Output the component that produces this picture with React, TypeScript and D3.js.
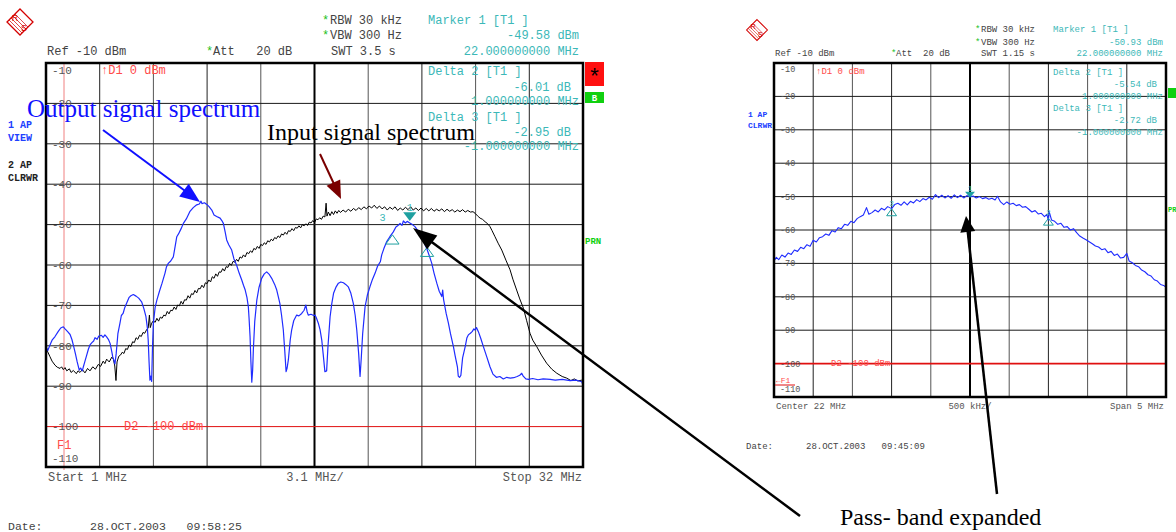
import * as d3 from "d3";

// level grid (dBm), shared by both screens
const levelTicks = [-10, -20, -30, -40, -50, -60, -70, -80, -90, -100, -110];

// left screen: 1..32 MHz, 3.1 MHz/div
const wideStart = 1;
const wideStop = 32;
// right screen: center 22 MHz, span 5 MHz
const zoomStart = 19.5;
const zoomStop = 24.5;

// trace 1 (blue) - output signal spectrum [MHz, dBm]
const outputTrace: [number, number][] = [
  [1.0, -81.5], [1.04, -80.5], [1.1, -81.2], [1.23, -79.8], [1.35, -78.6], [1.52, -77.7], [1.7, -76.5],
  [1.85, -75.6], [2.0, -75.3], [2.1, -75.8], [2.25, -76.5], [2.39, -77.2], [2.5, -78.5], [2.6, -80.2],
  [2.7, -82], [2.8, -84], [2.92, -86], [3.0, -85.5], [3.1, -86.2], [3.15, -85.3], [3.25, -83.8],
  [3.35, -82.3], [3.45, -80.8], [3.54, -79.8], [3.65, -79.2], [3.75, -78.8], [3.83, -78], [3.95, -78.4],
  [4.05, -77.6], [4.2, -77.4], [4.3, -77.9], [4.4, -77.3], [4.5, -77.8], [4.6, -78.4], [4.7, -79.4],
  [4.8, -81.5], [4.85, -82.7], [4.92, -83.6], [4.98, -84.5], [5.05, -82], [5.15, -77], [5.27, -74.4],
  [5.35, -72.5], [5.45, -72], [5.55, -70.5], [5.66, -69.4], [5.8, -68], [5.9, -67.6], [6.04, -67.3],
  [6.2, -67.7], [6.35, -68.2], [6.52, -69.1], [6.65, -70.8], [6.77, -72.8], [6.85, -75.5], [6.9, -78.6],
  [6.95, -84], [7.0, -88.5], [7.05, -87.5], [7.1, -88.8], [7.15, -80], [7.2, -74.4], [7.3, -70.5],
  [7.4, -68.7], [7.55, -66.5], [7.7, -64.5], [7.87, -62], [7.95, -60.5], [8.06, -59.6], [8.2, -59],
  [8.35, -58], [8.45, -55.5], [8.55, -53], [8.65, -52.3], [8.8, -51], [8.93, -49.7], [9.1, -48.6],
  [9.3, -46.8], [9.5, -45.8], [9.7, -45.1], [9.85, -44.9], [9.95, -44.2], [10.0, -44.8], [10.15, -44.6],
  [10.28, -45], [10.4, -45.5], [10.57, -46.4], [10.7, -47.6], [10.85, -48.0], [11.05, -48.4], [11.15, -49],
  [11.24, -49.7], [11.35, -52], [11.43, -53.8], [11.55, -55], [11.72, -56.3], [11.85, -58.5], [12.0, -60],
  [12.15, -62], [12.3, -63.7], [12.4, -65], [12.5, -66.2], [12.6, -68], [12.68, -70.3], [12.72, -73],
  [12.78, -77.7], [12.83, -84], [12.88, -89], [12.93, -86], [12.97, -81], [13.05, -74], [13.17, -68.7],
  [13.3, -65.5], [13.45, -63.3], [13.6, -62.2], [13.74, -61.7], [13.9, -62.4], [14.03, -63.3], [14.2, -64.8],
  [14.32, -66.2], [14.42, -68], [14.5, -69.5], [14.6, -72.5], [14.7, -76.1], [14.78, -81], [14.86, -86.4],
  [14.92, -85.5], [14.99, -83.5], [15.1, -78.5], [15.18, -76.1], [15.3, -73.8], [15.47, -72.4], [15.6, -72.6],
  [15.76, -72], [15.9, -71.2], [16.0, -69.9], [16.07, -71.5], [16.14, -72.4], [16.3, -72.2], [16.45, -72.5],
  [16.53, -72.4], [16.6, -73], [16.72, -74.4], [16.82, -76], [16.92, -78.6], [17.0, -82], [17.1, -86.4],
  [17.2, -86.2], [17.28, -80], [17.4, -72.8], [17.5, -69.5], [17.6, -67], [17.75, -65.4], [17.88, -64.5],
  [18.02, -64.2], [18.17, -64.4], [18.3, -64.8], [18.45, -65.4], [18.6, -67], [18.74, -69.5], [18.85, -72.5],
  [18.94, -76.1], [19.05, -82], [19.13, -87.6], [19.2, -83], [19.28, -77], [19.42, -70.3], [19.55, -67.5],
  [19.7, -65.4], [19.85, -63.5], [20.0, -62], [20.15, -60.2], [20.3, -59.2], [20.38, -57.5], [20.5, -56],
  [20.67, -54.2], [20.85, -53], [21.05, -51.8], [21.2, -50.6], [21.3, -50.3], [21.44, -49.7], [21.55, -50.2],
  [21.63, -49.1], [21.75, -49.6], [21.85, -49.2], [22.0, -49.6], [22.15, -50], [22.3, -50.5], [22.45, -51.4],
  [22.6, -52.6], [22.8, -54.2], [22.98, -55.9], [23.15, -58], [23.27, -59.6], [23.4, -62], [23.56, -64.5],
  [23.7, -66.5], [23.85, -67.8], [23.9, -66.2], [23.95, -68.5], [24.1, -72], [24.23, -74.4], [24.35, -77],
  [24.52, -80.2], [24.62, -82.5], [24.75, -85.2], [24.8, -87.5], [24.87, -87.8], [24.95, -87.3], [25.05, -83],
  [25.2, -80.2], [25.3, -78], [25.38, -77.3], [25.5, -76.9], [25.6, -76.5], [25.7, -75.8], [25.77, -76.1],
  [25.85, -75.5], [25.96, -76.5], [26.1, -78.2], [26.25, -80.2], [26.45, -82.8], [26.63, -85.2], [26.8, -87],
  [27.0, -87.8], [27.2, -87.6], [27.4, -88.2], [27.6, -87.8], [27.8, -88], [28.0, -87.9], [28.2, -87.6],
  [28.35, -87.3], [28.46, -86.8], [28.55, -87.5], [28.7, -88.2], [28.85, -88.3], [29.1, -88.1], [29.4, -88.4],
  [29.7, -88.2], [30.1, -88.3], [30.4, -88.5], [30.8, -88.3], [31.25, -88.6], [31.6, -88.5], [31.93, -88.9],
  [31.98, -89.5], [32.0, -73.5],
];

// trace 2 (black) - input signal spectrum [MHz, dBm]
const inputTrace: [number, number][] = [
  [1.0, -80.5], [1.1, -81.5], [1.23, -82.7], [1.35, -83.8], [1.52, -84.8], [1.65, -85.3], [1.81, -85.6],
  [1.9, -85.2], [2.0, -85.9], [2.1, -85.4], [2.2, -86.2], [2.35, -85.7], [2.45, -86.6], [2.58, -86.1],
  [2.75, -86.9], [2.85, -86.2], [2.96, -86.6], [3.1, -85.9], [3.25, -86.7], [3.4, -85.6], [3.54, -86.2],
  [3.7, -85.2], [3.85, -85.8], [4.02, -84.6], [4.15, -85.1], [4.3, -83.8], [4.4, -84.4], [4.5, -83.3],
  [4.65, -84.0], [4.8, -82.8], [4.89, -83.3], [4.97, -85], [5.04, -88.6], [5.1, -84], [5.2, -82.6],
  [5.3, -82.3], [5.4, -81.6], [5.5, -81.9], [5.6, -80.7], [5.7, -80.9], [5.8, -79.8], [5.9, -80.2],
  [6.0, -79.0], [6.1, -79.2], [6.2, -78.0], [6.3, -78.4], [6.4, -77.4], [6.5, -77.7], [6.6, -76.7],
  [6.7, -76.9], [6.81, -76.0], [6.9, -75.6], [6.97, -72.4], [7.02, -75.5],
  [7.1, -74.4], [7.2, -73.8], [7.3, -74.2], [7.4, -73.2], [7.5, -73.9], [7.6, -72.9], [7.7, -73.2],
  [7.8, -72.4], [7.9, -72.6], [8.0, -71.5], [8.1, -72.1], [8.2, -71.2], [8.3, -71.3], [8.4, -70.4],
  [8.5, -71.0], [8.6, -69.9], [8.7, -70.1], [8.8, -69.0], [8.9, -69.7], [9.0, -68.6], [9.1, -68.7],
  [9.2, -67.6], [9.3, -68.2], [9.4, -67.1], [9.5, -67.3], [9.6, -66.3], [9.7, -66.9], [9.8, -65.8],
  [9.9, -65.9], [10.0, -65.0], [10.1, -65.6], [10.2, -64.4], [10.3, -64.6], [10.4, -63.7], [10.5, -64.2],
  [10.6, -62.9], [10.7, -63.3], [10.8, -62.2], [10.9, -62.8], [11.0, -61.7], [11.1, -61.8], [11.2, -60.9],
  [11.3, -61.5], [11.4, -60.4], [11.5, -60.6], [11.6, -59.6], [11.7, -60.1], [11.8, -59.1], [11.9, -59.3],
  [12.0, -58.6], [12.1, -59.1], [12.2, -58.0], [12.3, -58.3], [12.4, -57.5], [12.5, -58.0], [12.6, -56.9],
  [12.7, -57.2], [12.8, -56.5], [12.9, -56.9], [13.0, -55.9], [13.1, -56.2], [13.2, -55.4], [13.3, -55.9],
  [13.4, -54.9], [13.5, -55.2], [13.6, -54.5], [13.7, -54.9], [13.8, -54.0], [13.9, -54.3], [14.0, -53.6],
  [14.1, -54.0], [14.2, -53.2], [14.3, -53.5], [14.4, -52.8], [14.5, -53.2], [14.6, -52.3], [14.7, -52.6],
  [14.8, -51.9], [14.9, -52.4], [15.0, -51.5], [15.1, -51.7], [15.2, -51.0], [15.3, -51.5], [15.4, -50.7],
  [15.5, -50.9], [15.6, -50.3], [15.7, -50.8], [15.8, -50.0], [15.9, -50.3], [16.0, -49.8], [16.1, -50.2],
  [16.2, -49.4], [16.3, -49.6], [16.4, -49.0], [16.5, -49.5], [16.6, -48.6], [16.7, -48.8], [16.8, -48.3],
  [16.9, -48.7], [17.0, -47.9], [17.1, -48.1], [17.17, -44.7], [17.22, -47.9], [17.3, -46.9], [17.4, -47.8],
  [17.5, -46.8], [17.6, -47.5], [17.7, -46.6], [17.8, -47.2], [17.9, -46.5], [18.0, -47.0], [18.15, -46.4],
  [18.3, -46.9], [18.45, -46.2], [18.6, -46.7], [18.75, -46.0], [18.9, -46.5], [19.05, -45.8], [19.2, -46.3],
  [19.35, -45.6], [19.5, -46.1], [19.65, -45.4], [19.8, -45.9], [19.95, -45.2], [20.1, -46.0], [20.25, -45.4],
  [20.4, -46.1], [20.55, -45.6], [20.7, -46.4], [20.85, -45.7], [21.0, -46.2], [21.15, -45.6], [21.3, -46.5],
  [21.45, -45.9], [21.6, -46.4], [21.75, -45.7], [21.9, -46.3], [22.05, -45.6], [22.2, -46.4], [22.35, -45.9],
  [22.5, -46.5], [22.65, -45.9], [22.8, -46.6], [22.95, -46.0], [23.1, -46.6], [23.25, -46.0], [23.4, -46.7],
  [23.55, -46.2], [23.7, -46.6], [23.85, -46.1], [24.0, -46.8], [24.15, -46.2], [24.3, -46.7], [24.45, -46.3],
  [24.6, -46.9], [24.75, -46.4], [24.9, -46.8], [25.05, -46.3], [25.2, -46.9], [25.35, -46.5], [25.5, -46.9],
  [25.65, -46.8], [25.77, -47.2], [25.95, -48], [26.06, -48.4], [26.2, -48.7], [26.35, -49.3], [26.5, -49.8],
  [26.63, -50.5], [26.75, -51.5], [26.92, -53], [27.1, -54.6], [27.31, -56.3], [27.55, -58.8], [27.79, -61.2],
  [27.95, -63.5], [28.17, -66.2], [28.35, -68.4], [28.56, -70.7], [28.75, -73.8], [28.94, -76.9], [29.1, -78.6],
  [29.33, -80.2], [29.6, -82.3], [29.9, -84.3], [30.2, -85.8], [30.49, -86.8], [30.8, -87.6], [31.06, -88],
  [31.3, -88.6], [31.5, -88.2], [31.7, -88.7], [31.93, -88.5], [32, -88.3],
];

// pass-band trace (right screen) [MHz, dBm]
const passbandTrace: [number, number][] = [
  [19.5, -69.3], [19.53, -68.2], [19.56, -68.9], [19.6, -67.5], [19.64, -68.1], [19.68, -66.9], [19.72, -67.3],
  [19.76, -66.0], [19.8, -66.4], [19.84, -65.2], [19.88, -65.6], [19.92, -64.4], [19.96, -64.9], [20.0, -63.1],
  [20.04, -63.6], [20.08, -62.3], [20.12, -62.0], [20.16, -61.2], [20.2, -61.6], [20.24, -60.2], [20.28, -60.6],
  [20.32, -59.3], [20.36, -59.6], [20.4, -58.3], [20.44, -58.6], [20.48, -57.4], [20.52, -57.8], [20.56, -56.6],
  [20.6, -56.0], [20.64, -55.5], [20.68, -53.3], [20.71, -55.3], [20.75, -54.8], [20.79, -54.0], [20.83, -54.6],
  [20.87, -53.5], [20.91, -54.0], [20.95, -53.0], [21.0, -53.6], [21.04, -52.4], [21.08, -52.0], [21.12, -52.6],
  [21.16, -51.6], [21.2, -52.5], [21.24, -51.4], [21.28, -51.9], [21.32, -50.9], [21.36, -51.5], [21.4, -50.6],
  [21.44, -51.0], [21.48, -50.2], [21.52, -50.8], [21.56, -49.4], [21.6, -50.3], [21.64, -49.6], [21.68, -50.4],
  [21.72, -49.7], [21.76, -50.5], [21.8, -49.5], [21.84, -50.3], [21.88, -49.6], [21.92, -50.4], [21.96, -49.7],
  [22.0, -50.1], [22.04, -49.8], [22.08, -50.4], [22.12, -50.0], [22.16, -50.6], [22.2, -50.3], [22.24, -50.8],
  [22.28, -50.5], [22.32, -51.0], [22.35, -49.9], [22.39, -51.6], [22.43, -52.4], [22.47, -51.6], [22.51, -52.3],
  [22.55, -52.0], [22.59, -52.7], [22.63, -52.4], [22.67, -53.2], [22.71, -53.0], [22.75, -53.8], [22.79, -54.6],
  [22.83, -54.2], [22.87, -55.2], [22.91, -55.0], [22.95, -56.0], [22.98, -55.3], [23.0, -57.1], [23.01, -54.5],
  [23.04, -57.0], [23.08, -57.4], [23.12, -58.3], [23.16, -58.0], [23.2, -59.2], [23.24, -59.0], [23.28, -60.0],
  [23.32, -59.6], [23.36, -60.8], [23.4, -61.8], [23.44, -62.4], [23.48, -62.9], [23.52, -63.5], [23.56, -64.1],
  [23.6, -64.8], [23.64, -65.1], [23.68, -65.9], [23.72, -65.6], [23.76, -66.8], [23.8, -66.4], [23.84, -67.6],
  [23.88, -67.2], [23.92, -68.4], [23.96, -68.2], [24.0, -67.0], [24.03, -69.3], [24.07, -69.8], [24.11, -70.6],
  [24.15, -71.0], [24.19, -72.0], [24.23, -72.5], [24.27, -73.4], [24.31, -73.8], [24.35, -74.9], [24.39, -75.3],
  [24.43, -76.3], [24.47, -76.6], [24.5, -77.2],
];

// markers: [label, MHz, dBm]
const wideMarkers: [string, number, number][] = [["1", 22, -49.58], ["2", 23, -55.59], ["3", 21, -52.53]];
const zoomMarkers: [string, number, number][] = [["1", 22, -50.93], ["2", 23, -56.47], ["3", 21, -53.65]];

const MONO = "'Liberation Mono', 'DejaVu Sans Mono', monospace";
const SERIF = "'Liberation Serif', 'DejaVu Serif', serif";
const TEAL = "#3cb8b8";
const MK = "#1fa0a0";
const RED = "#ff4a4a";
const sp = (s: string) => s.replace(/ /g, "\u00a0");

function Arrow({ x1, y1, x2, y2, color, width, head, headW }: any) {
  const len = Math.hypot(x2 - x1, y2 - y1);
  const ux = (x2 - x1) / len, uy = (y2 - y1) / len;
  const bx = x2 - ux * head, by = y2 - uy * head;
  const px = -uy * headW / 2, py = ux * headW / 2;
  return (
    <g>
      <line x1={x1} y1={y1} x2={bx + ux * 2} y2={by + uy * 2} stroke={color} strokeWidth={width} />
      <polygon points={`${x2},${y2} ${bx + px},${by + py} ${bx - px},${by - py}`} fill={color} />
    </g>
  );
}

function Logo({ x, y, s }: { x: number; y: number; s: number }) {
  return (
    <g transform={`translate(${x},${y}) scale(${s})`}>
      <polygon points="0,-13 13,0 0,13 -13,0" fill="none" stroke="#d40000" strokeWidth={1.3} />
      {[-3, -1, 1, 3].map(o => (
        <line key={o} x1={-8 + o} y1={-5 - o} x2={5 + o} y2={8 - o} stroke="#d40000" strokeWidth={0.7} />
      ))}
      <text x={-5} y={-1} fontSize={9} fontFamily="'Liberation Sans', sans-serif" fill="#d40000" textAnchor="middle">R</text>
      <text x={4} y={9} fontSize={9} fontFamily="'Liberation Sans', sans-serif" fill="#d40000" textAnchor="middle">S</text>
    </g>
  );
}

type ScreenProps = {
  x0: number; x1: number; y0: number; y1: number;
  f0: number; f1: number;
  fs: number; labelFs: number;
  traces: { data: [number, number][]; color: string; width: number }[];
  markers: [string, number, number][];
  f1Line?: number;
};

function Screen({ x0, x1, y0, y1, f0, f1, fs, labelFs, traces, markers, f1Line }: ScreenProps) {
  const x = d3.scaleLinear().domain([f0, f1]).range([x0, x1]);
  const y = d3.scaleLinear().domain([-110, -10]).range([y1, y0]);
  const gridF = d3.range(11).map(i => f0 + ((f1 - f0) / 10) * i);
  const line = d3.line<[number, number]>().x(d => x(d[0])).y(d => y(d[1]));
  const tri = fs * 0.55;
  return (
    <g>
      {gridF.slice(1, 10).map((f, i) => (
        <line key={"v" + i} x1={x(f)} x2={x(f)} y1={y0} y2={y1}
          stroke={i === 4 ? "#000" : i % 2 === 0 ? "#222" : "#555"} strokeWidth={i === 4 ? 2 : 1} />
      ))}
      {levelTicks.slice(1, 9).map(l => (
        <line key={"h" + l} x1={x0} x2={x1} y1={y(l)} y2={y(l)} stroke="#1a1a1a" strokeWidth={1} />
      ))}
      <line x1={x0} x2={x1} y1={y(-100)} y2={y(-100)} stroke="#e01010" strokeWidth={fs > 10 ? 1 : 1.6} />
      {f1Line !== undefined && (
        <line x1={x(f1Line)} x2={x(f1Line)} y1={y0} y2={y1 + 3} stroke="#f08080" strokeWidth={1} />
      )}
      {levelTicks.map((l, i) => (
        <text key={"t" + l} x={x0 + 6}
          y={i === 0 ? y(l) + labelFs : i === 10 ? y(l) - 5 : y(l) + labelFs * 0.35}
          fontSize={labelFs} fontFamily={MONO} fill="#555">{l}</text>
      ))}
      {traces.map((t, i) => (
        <path key={"p" + i} d={line(t.data) || ""} fill="none" stroke={t.color} strokeWidth={t.width} strokeLinejoin="round" />
      ))}
      {markers.map(([lab, f, l]) => {
        const cx = x(f), cy = y(l);
        if (lab === "1") {
          return (
            <g key={lab}>
              <polygon points={`${cx - tri},${cy - tri * 1.6} ${cx + tri},${cy - tri * 1.6} ${cx},${cy - 2}`} fill={MK} />
              <text x={cx} y={cy - tri * 1.8} fontSize={fs * 0.85} fontFamily={MONO} fill={TEAL} textAnchor="middle">1</text>
            </g>
          );
        }
        return (
          <g key={lab}>
            <polygon points={`${cx - tri},${cy + tri * 1.4} ${cx + tri},${cy + tri * 1.4} ${cx},${cy}`} fill="none" stroke={MK} strokeWidth={1} />
            <text x={lab === "3" && fs > 10 ? cx - 10 : cx} y={lab === "3" && fs > 10 ? cy - 14 : cy - 3} fontSize={fs * 0.85}
              fontFamily={MONO} fill={TEAL} textAnchor="middle">{fs > 10 && lab === "2" ? "" : lab}</text>
          </g>
        );
      })}
      <rect x={x0} y={y0} width={x1 - x0} height={y1 - y0} fill="none" stroke="#000" strokeWidth={2.5} />
    </g>
  );
}

export default function App() {
  const W = 1176, H = 532;
  const L = { x0: 46, x1: 583, y0: 63, y1: 467 };
  const R = { x0: 774, x1: 1166, y0: 63, y1: 397 };
  const fL = 12, fR = 9;
  return (
    <svg width={W} height={H} style={{ position: "absolute", left: 0, top: 0, background: "#fff" }}>
      <rect width={W} height={H} fill="#fff" />

      {/* ---------- left screen ---------- */}
      <Logo x={20} y={22} s={1} />
      <g fontFamily={MONO} fontSize={fL} fill="#444">
        <text x={322} y={24} fill="#20c020">*</text>
        <text x={330} y={24}>RBW 30 kHz</text>
        <text x={322} y={39} fill="#20c020">*</text>
        <text x={330} y={39}>VBW 300 Hz</text>
        <text x={331} y={55}>SWT 3.5 s</text>
        <text x={47} y={55}>Ref -10 dBm</text>
        <text x={206} y={55} fill="#20c020">*</text>
        <text x={213} y={55}>{sp("Att   20 dB")}</text>
        <g fill={TEAL}>
          <text x={428} y={24}>Marker 1 [T1 ]</text>
          <text x={579} y={39} textAnchor="end">-49.58 dBm</text>
          <text x={579} y={55} textAnchor="end">22.000000000 MHz</text>
        </g>
      </g>
      <Screen {...L} f0={wideStart} f1={wideStop} fs={fL} labelFs={11}
        traces={[{ data: inputTrace, color: "#000", width: 1 }, { data: outputTrace, color: "#1f2cff", width: 1.2 }]}
        markers={wideMarkers} f1Line={2.04} />
      <g fontFamily={MONO} fontSize={fL}>
        <text x={101} y={74} fill={RED}>↑D1 0 dBm</text>
        <text x={124} y={430} fill={RED}>D2 -100 dBm</text>
        <text x={57} y={449} fill={RED}>F1</text>
        <g fill={TEAL}>
          <text x={428} y={75}>Delta 2 [T1 ]</text>
          <text x={571} y={91} textAnchor="end">-6.01 dB</text>
          <text x={579} y={105} textAnchor="end">1.000000000 MHz</text>
          <text x={428} y={121}>Delta 3 [T1 ]</text>
          <text x={571} y={136} textAnchor="end">-2.95 dB</text>
          <text x={579} y={150} textAnchor="end">-1.000000000 MHz</text>
        </g>
        <g fill="#555">
          <text x={48} y={481}>Start 1 MHz</text>
          <text x={315} y={481} textAnchor="middle">3.1 MHz/</text>
          <text x={582} y={481} textAnchor="end">Stop 32 MHz</text>
        </g>
      </g>
      <g fontFamily={MONO} fontSize={10} fontWeight="bold">
        <text x={8} y={128} fill="#2040ff">1 AP</text>
        <text x={8} y={141} fill="#2040ff">VIEW</text>
        <text x={8} y={168} fill="#222">2 AP</text>
        <text x={8} y={181} fill="#222">CLRWR</text>
        <text x={585} y={244} fill="#10d010" fontSize={9}>PRN</text>
      </g>
      <rect x={585} y={62} width={19} height={24} fill="#ff1010" />
      <text x={594.5} y={83} fontSize={22} fontFamily="'Liberation Sans', sans-serif" textAnchor="middle" fill="#000">*</text>
      <rect x={585} y={92} width={19} height={11} fill="#10d010" />
      <text x={594.5} y={101} fontSize={9} fontWeight="bold" fontFamily={MONO} textAnchor="middle" fill="#fff">B</text>
      <g fontFamily={MONO} fontSize={11.5} fill="#444">
        <text x={8} y={530}>Date:</text>
        <text x={90} y={530}>{sp("28.OCT.2003   09:58:25")}</text>
      </g>

      {/* ---------- right screen ---------- */}
      <Logo x={757} y={30} s={0.8} />
      <g fontFamily={MONO} fontSize={fR} fill="#444">
        <text x={975} y={32} fill="#20c020">*</text>
        <text x={981} y={32}>RBW 30 kHz</text>
        <text x={975} y={45} fill="#20c020">*</text>
        <text x={981} y={45}>VBW 300 Hz</text>
        <text x={981} y={56}>SWT 1.15 s</text>
        <text x={775} y={56}>Ref -10 dBm</text>
        <text x={891} y={56} fill="#20c020">*</text>
        <text x={896} y={56}>{sp("Att  20 dB")}</text>
        <g fill={TEAL}>
          <text x={1053} y={32}>Marker 1 [T1 ]</text>
          <text x={1163} y={45} textAnchor="end">-50.93 dBm</text>
          <text x={1163} y={56} textAnchor="end">22.000000000 MHz</text>
        </g>
      </g>
      <Screen {...R} f0={zoomStart} f1={zoomStop} fs={fR} labelFs={8.5}
        traces={[{ data: passbandTrace, color: "#1f2cff", width: 1.1 }]}
        markers={zoomMarkers} />
      <g fontFamily={MONO} fontSize={fR}>
        <text x={816} y={74} fill={RED}>↑D1 0 dBm</text>
        <text x={831} y={366} fill={RED}>D2 -100 dBm</text>
        <text x={776} y={383} fill={RED} fontSize={8}>←F1</text>
        <line x1={775} x2={795} y1={385} y2={385} stroke="#e01010" strokeWidth={1} />
        <g fill={TEAL}>
          <text x={1053} y={75}>Delta 2 [T1 ]</text>
          <text x={1157} y={87} textAnchor="end">-5.54 dB</text>
          <text x={1163} y={99} textAnchor="end">1.000000000 MHz</text>
          <text x={1053} y={111}>Delta 3 [T1 ]</text>
          <text x={1157} y={123} textAnchor="end">-2.72 dB</text>
          <text x={1163} y={135} textAnchor="end">-1.000000000 MHz</text>
        </g>
        <g fill="#555">
          <text x={776} y={409}>Center 22 MHz</text>
          <text x={970} y={409} textAnchor="middle">500 kHz/</text>
          <text x={1164} y={409} textAnchor="end">Span 5 MHz</text>
        </g>
      </g>
      <g fontFamily={MONO} fontSize={8} fontWeight="bold" fill="#2040ff">
        <text x={748} y={117}>1 AP</text>
        <text x={748} y={128}>CLRWR</text>
      </g>
      <rect x={1168} y={88} width={8} height={10} fill="#10d010" />
      <text x={1168} y={212} fontSize={7} fontFamily={MONO} fontWeight="bold" fill="#10d010">PRN</text>
      <g fontFamily={MONO} fontSize={9} fill="#444">
        <text x={746} y={449}>Date:</text>
        <text x={806} y={449}>{sp("28.OCT.2003   09:45:09")}</text>
      </g>

      {/* ---------- annotations ---------- */}
      <Arrow x1={103} y1={130} x2={200} y2={202} color="#1010ff" width={2} head={20} headW={16} />
      <Arrow x1={320} y1={154} x2={341} y2={199} color="#7a0000" width={2} head={18} headW={15} />
      <Arrow x1={800} y1={516} x2={413} y2={228} color="#000" width={2.5} head={24} headW={17} />
      <Arrow x1={997} y1={494} x2={966} y2={216} color="#000" width={2.5} head={16} headW={15} />
      <text x={27} y={117} fontFamily={SERIF} fontSize={25} fill="#1010ff">Output signal spectrum</text>
      <text x={267} y={140} fontFamily={SERIF} fontSize={24} fill="#000">Input signal spectrum</text>
      <text x={840} y={525} fontFamily={SERIF} fontSize={24} fill="#000">Pass- band expanded</text>
    </svg>
  );
}
